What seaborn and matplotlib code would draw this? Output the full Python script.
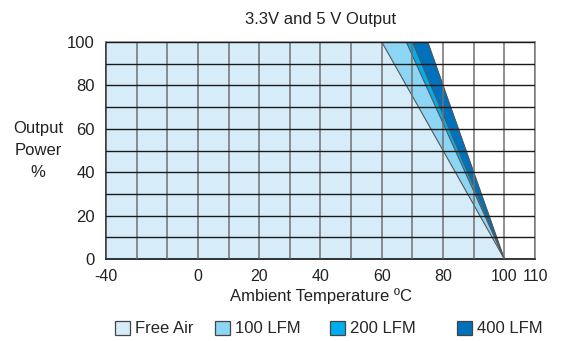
import matplotlib

matplotlib.use("Agg")
import matplotlib.pyplot as plt
import pandas as pd
import seaborn as sns
from matplotlib.patches import Patch
from matplotlib.ticker import MultipleLocator

# derating curves: full power from the left edge up to the knee, then linear to 0 %
series = ["Free Air", "100 LFM", "200 LFM", "400 LFM"]
knee_temp = [60, 68, 70, 75]
zero_temp = [100, 100, 100, 100]
x_start = -30
full_power = 100

tick_pos = [-30, 0, 20, 40, 60, 80, 100, 110]
tick_labels = ["-40", "0", "20", "40", "60", "80", "100", "110"]

colors = {
    "Free Air": "#d6edf9",
    "100 LFM": "#8dd5f4",
    "200 LFM": "#00aeef",
    "400 LFM": "#0071bc",
}

rows = []
for name, knee, zero in zip(series, knee_temp, zero_temp):
    for t, p in [(x_start, full_power), (knee, full_power), (zero, 0)]:
        rows.append({"series": name, "temp": t, "power": p})
df = pd.DataFrame(rows)

sns.set_style("white")
plt.rcParams["font.family"] = ["Liberation Sans", "DejaVu Sans"]
plt.rcParams["font.size"] = 12
text_color = "#222222"

fig = plt.figure(figsize=(5.61, 3.41), dpi=100)
ax = fig.add_axes([106 / 561, 1 - 259 / 341, 429 / 561, 217 / 341])

# draw the widest (400 LFM) first so the narrower areas sit on top
for name in reversed(series):
    d = df[df.series == name]
    ax.fill_between(d.temp, d.power, 0, color=colors[name], linewidth=0, zorder=1)
    sns.lineplot(data=d, x="temp", y="power", color="#555555", linewidth=0.8,
                 ax=ax, zorder=2, legend=False)

ax.set_xlim(-30, 110)
ax.set_ylim(0, 100)
ax.set_xticks(tick_pos)
ax.set_xticklabels(tick_labels)
ax.xaxis.set_minor_locator(MultipleLocator(10))
ax.yaxis.set_major_locator(MultipleLocator(20))
ax.yaxis.set_minor_locator(MultipleLocator(10))
ax.tick_params(which="both", length=0, labelsize=12, colors=text_color)
ax.tick_params(axis="x", labelsize=11.5, pad=7)
ax.tick_params(axis="y", pad=8)

ax.set_axisbelow(False)
ax.grid(True, which="both", axis="x", color="#707070", linewidth=1.1)
ax.grid(True, which="both", axis="y", color="#1a1a1a", linewidth=1.0)

for side in ["left", "bottom"]:
    ax.spines[side].set_color("#1a1a1a")
for side in ["top", "right"]:
    ax.spines[side].set_color("#888888")
for s in ax.spines.values():
    s.set_linewidth(1.2)

ax.set_title("3.3V and 5 V Output", fontsize=12, pad=13, color=text_color)
ax.set_xlabel("Ambient Temperature ºC", fontsize=12, labelpad=3, color=text_color)
ax.set_ylabel("Output\nPower\n%", fontsize=12, rotation=0, ha="center", va="center",
              linespacing=1.6, color=text_color)
ax.yaxis.set_label_coords((38 - 106) / 429, 0.5)

legend_x = [115, 215, 330, 457]
for name, lx in zip(series, legend_x):
    fig.legend(handles=[Patch(facecolor=colors[name], edgecolor="#444444", linewidth=0.9)],
               labels=[name], loc="center left", bbox_to_anchor=(lx / 561, 1 - 328.5 / 341),
               frameon=False, borderpad=0, borderaxespad=0, handlelength=0.9,
               handleheight=0.9, handletextpad=0.3, fontsize=12)

fig.savefig("out.png", dpi=100)
plt.close(fig)
